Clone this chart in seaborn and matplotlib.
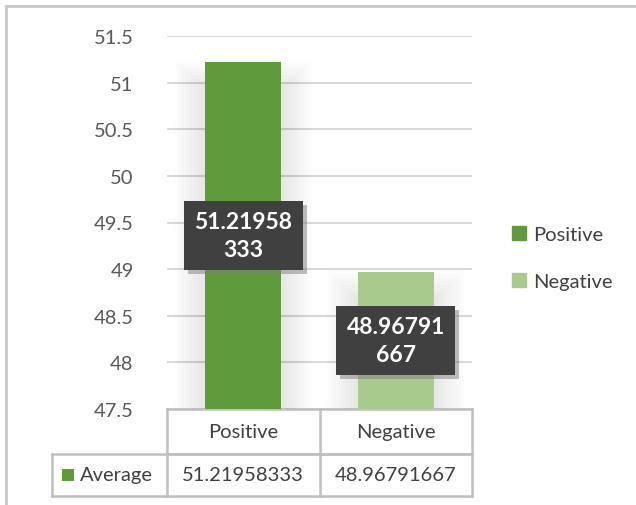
import numpy as np
import matplotlib
matplotlib.use("Agg")
import matplotlib.pyplot as plt
import matplotlib.patheffects as pe
import seaborn as sns
from matplotlib.patches import Patch, Rectangle
from matplotlib.lines import Line2D

# data
categories = ["Positive", "Negative"]
values = [51.21958333, 48.96791667]
series_name = "Average"
colors = ["#5F9A3C", "#A6CB8D"]
y_ticks = [47.5, 48, 48.5, 49, 49.5, 50, 50.5, 51, 51.5]

sns.set_theme(style="white")
plt.rcParams["font.family"] = ["Lato", "DejaVu Sans"]

W, H = 636, 506
fig = plt.figure(figsize=(W / 100, H / 100), dpi=100)
ax = fig.add_axes([167 / W, 1 - 410 / H, 305 / W, 373 / H])

ymin, ymax = 47.5, 51.5
x = np.arange(len(categories))

# soft glow behind the bars
for k in range(1, 9):
    ax.bar(x, [v - ymin + 0.04 * k for v in values], bottom=ymin - 0.3,
           width=0.5 + 0.05 * k, color="#000000", alpha=0.012, zorder=1,
           linewidth=0)

sns.barplot(x=categories, y=values, hue=categories, palette=colors,
            width=0.5, legend=False, ax=ax, zorder=3, saturation=1)
for p in ax.patches[-len(categories):]:
    p.set_edgecolor("none")

ax.set_ylim(ymin, ymax)
ax.set_xlim(-0.5, len(categories) - 0.5)
ax.set_yticks(y_ticks)
ax.set_yticklabels([f"{t:g}" for t in y_ticks], fontsize=14.5, color="#595959")
ax.tick_params(axis="y", length=0, pad=24)
ax.set_xticks([])
ax.set_xlabel("")
ax.set_ylabel("")
for s in ax.spines.values():
    s.set_visible(False)
ax.yaxis.grid(True, color="#d9d9d9", linewidth=1.5, zorder=0)
ax.set_axisbelow(True)

# data labels centred on the bars
for xi, v in zip(x, values):
    s = f"{v:.8f}"
    txt = s[:8] + "\n" + s[8:]
    yc = (ymin + v) / 2
    t = ax.text(xi, yc, txt, ha="center", va="center", fontsize=16.5,
                fontweight="bold", color="white", zorder=5, linespacing=1.4,
                bbox=dict(boxstyle="square,pad=0.45", fc="#404040", ec="none"))
    t.get_bbox_patch().set_path_effects([
        pe.SimplePatchShadow(offset=(3, -3), shadow_rgbFace="#7f7f7f", alpha=0.5),
        pe.Normal()])

# data table
lc = "#bfbfbf"
lw = 1.8
r1, r2 = -45 / 373, -87 / 373
xl = (52 - 167) / 305
tr = ax.transAxes
segs = [
    ((0, 1), (0, 0)), ((0, 1), (r1, r1)), ((xl, 1), (r1, r1)), ((xl, 1), (r2, r2)),
    ((0, 0), (0, r2)), ((0.5, 0.5), (0, r2)), ((1, 1), (0, r2)), ((xl, xl), (r1, r2)),
]
for xs, ys in segs:
    ax.plot(xs, ys, color=lc, lw=lw, transform=tr, clip_on=False,
            solid_capstyle="projecting")
ncat = len(categories)
for i, (c, v) in enumerate(zip(categories, values)):
    xc = (i + 0.5) / ncat
    ax.text(xc, r1 / 2, c, transform=tr, ha="center", va="center",
            fontsize=14.5, color="#404040")
    ax.text(xc, (r1 + r2) / 2, f"{v:.8f}", transform=tr, ha="center",
            va="center", fontsize=14.5, color="#404040")
ax.add_patch(Rectangle(((62 - 167) / 305, (r1 + r2) / 2 - 6 / 373), 12 / 305,
                       12 / 373, transform=tr, clip_on=False,
                       color=colors[0], lw=0))
ax.text((80 - 167) / 305, (r1 + r2) / 2, series_name, transform=tr,
        ha="left", va="center", fontsize=14.5, color="#404040")

# legend
handles = [Patch(color=c, label=l) for c, l in zip(colors, categories)]
fig.legend(handles=handles, loc="center left",
           bbox_to_anchor=(494 / W, 1 - 259 / H), frameon=False,
           fontsize=14.5, labelcolor="#404040", handlelength=0.7,
           handleheight=0.7, handletextpad=0.35, labelspacing=1.45)

# outer frame (top and left edges)
fig.add_artist(Line2D([6 / W, 1], [1 - 7 / H, 1 - 7 / H], color="#c8c8c8",
                      lw=2, transform=fig.transFigure))
fig.add_artist(Line2D([6 / W, 6 / W], [0, 1 - 7 / H], color="#c8c8c8",
                      lw=2, transform=fig.transFigure))

fig.savefig("out.png", dpi=100, facecolor="white")
